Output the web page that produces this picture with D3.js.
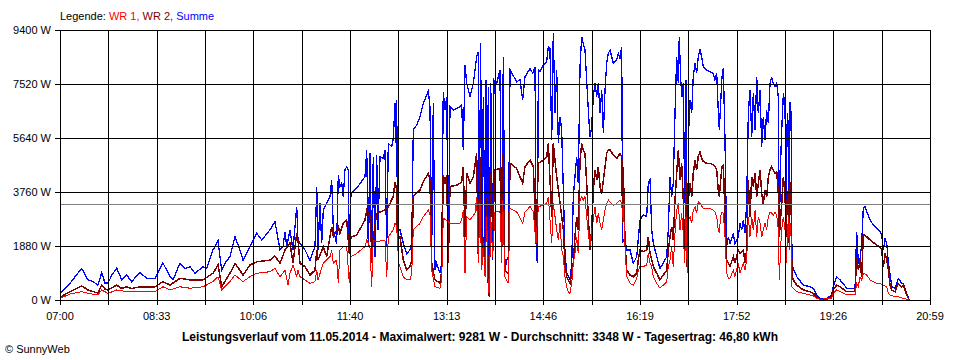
<!DOCTYPE html>
<html><head><meta charset="utf-8">
<script src="https://cdn.jsdelivr.net/npm/d3@7"></script>
<style>body{margin:0;background:#fff}svg{display:block}text{font-family:"Liberation Sans",Arial,sans-serif;font-size:11px;fill:#000}</style>
</head><body><svg id="c" width="960" height="360"></svg>
<script>
// time axis: minutes after 07:00 (07:00 .. 20:59)
const xTickLabels = ["07:00","08:33","10:06","11:40","13:13","14:46","16:19","17:52","19:26","20:59"];
const yTicks = [0,1880,3760,5640,7520,9400];
const yTickLabels = ["0 W","1880 W","3760 W","5640 W","7520 W","9400 W"];
const seriesNames = ["WR 1","WR 2","Summe"];
const avgW = 3348;
const titleText = "Leistungsverlauf vom 11.05.2014 - Maximalwert: 9281 W - Durchschnitt: 3348 W - Tagesertrag: 46,80 kWh";

const sumT = [1.0,9.6,20.9,27.0,31.8,36.6,40.2,43.4,46.3,50.1,54.7,59.5,64.3,69.1,73.3,77.2,83.6,91.6,99.3,106.1,109.0,115.7,120.5,125.4,130.2,137.9,141.5,147.5,152.4,155.9,159.1,163.9,168.8,173.6,176.5,183.2,189.7,194.5,202.5,207.3,212.2,215.1,217.0,218.6,221.8,224.7,228.3,229.5,231.4,236.3,241.1,245.9,247.6,248.8,250.7,252.4,253.9,260.4,262.0,263.6,266.8,268.4,270.0,271.7,273.2,274.8,276.5,278.0,279.0,280.6,286.1,294.1,295.8,297.3,298.9,300.6,302.1,303.8,305.4,306.7,308.6,311.8,313.4,315.1,316.6,319.9,321.4,323.1,324.0,324.7,325.3,326.6,327.9,331.1,334.4,337.5,339.2,340.7,344.0,347.2,350.4,353.6,355.2,356.8,358.5,360.0,361.6,363.3,366.5,368.1,369.6,371.3,372.9,374.5,376.1,379.3,382.6,385.7,387.4,388.9,390.6,392.2,395.4,398.6,401.8,403.4,404.3,405.7,406.7,408.2,409.9,410.8,412.1,413.0,414.0,415.4,417.3,418.5,421.1,424.3,426.0,427.5,429.1,430.8,432.3,434.0,440.4,443.6,446.2,448.4,453.3,455.9,458.1,459.0,460.3,461.3,462.9,466.1,469.4,470.9,472.5,474.2,475.7,477.4,479.0,480.6,482.2,483.8,485.4,487.0,488.7,491.8,493.5,495.0,496.6,498.3,499.8,501.5,503.1,504.6,506.3,507.9,509.5,511.1,512.7,514.3,515.9,517.6,519.1,520.8,522.4,524.0,525.6,527.2,528.8,530.4,533.6,536.9,538.4,540.0,541.7,542.6,543.2,544.9,546.5,549.7,552.9,556.2,559.3,562.5,565.8,567.3,569.0,570.6,572.2,575.5,578.6,581.8,585.1,586.6,588.3,589.9,591.4,593.1,594.7,596.3,597.2,598.6,599.8,601.1,602.4,603.7,605.0,606.3,607.6,609.2,610.7,612.4,614.0,615.5,617.2,618.8,620.4,623.6,626.8,630.0,631.6,633.3,634.8,635.8,637.1,638.4,639.7,641.3,642.9,644.5,646.1,649.3,650.9,654.1,655.8,657.4,659.0,660.6,662.2,663.8,665.4,667.1,668.6,670.3,671.9,673.4,675.1,676.7,678.2,679.9,681.5,683.1,684.7,686.3,687.9,689.5,691.2,692.7,693.7,695.0,696.0,697.6,699.2,700.2,701.4,702.4,703.4,704.0,705.0,705.9,707.2,710.5,716.8,723.3,726.5,729.7,732.9,739.4,744.2,745.7,749.0,752.2,758.7,766.7,768.3,769.9,771.5,773.1,774.7,776.3,778.0,781.2,784.4,787.6,790.8,792.4,794.1,795.7,797.3,798.9,800.4,802.1,805.3,808.4,811.7,813.2,816.5,819.1];
const sumW = [244,580,1100,700,640,520,950,590,590,870,1110,700,870,640,810,950,760,760,1290,810,700,1280,1100,1160,930,1160,1100,1740,2060,1040,1280,1510,2200,1740,1390,1860,2320,2090,2440,2730,1740,1860,2380,1860,2440,1740,3250,2090,1970,1740,1390,1860,3950,1740,3370,1970,3130,3600,4180,2440,1970,4350,3950,4060,3600,4530,4640,4530,1860,3710,3890,4290,5220,1860,5100,1280,4990,1510,5050,2440,4990,4930,5220,1860,5450,5340,5630,6850,5450,6960,3360,2440,2440,1970,1620,1740,1970,5920,6090,6380,6850,7140,7270,6730,1860,6850,1040,1280,930,1280,7250,6610,7080,1970,6730,6610,6670,6730,6790,5220,8180,7540,7080,7540,8470,8640,2440,8940,1280,7080,1510,7660,1280,7430,240,7540,1390,7660,7540,8010,1280,8470,1040,1390,1510,8010,7600,7660,6960,7770,8060,7890,8120,2090,1280,8010,7950,8180,8300,8820,8760,5570,9280,6500,8010,5450,6380,5920,3830,1620,930,700,1280,3600,4290,4990,4060,8120,9170,8940,8700,7660,6610,5680,6030,7080,7540,7080,7540,6500,7310,5800,7310,8240,8590,8700,8240,8360,8590,8410,8820,1970,2090,2090,1740,1740,1280,1510,2785,2960,2900,4060,4180,2440,1970,1510,1100,1280,1510,2440,4290,3600,4060,6500,8470,7540,9170,7660,7080,7540,3360,7660,1280,5920,6960,6500,7770,8240,7890,8470,8700,8470,8120,8010,7950,7890,7660,7890,6610,5920,6840,7770,8060,5570,1860,2200,1970,2320,1970,2200,2670,2440,2785,2320,3360,6500,7310,5690,7190,5920,7770,6500,7310,5340,6380,5570,6610,6150,7540,7770,7540,7430,7540,7080,2440,4870,5920,7190,6730,3250,6500,6030,2440,6900,6500,1280,1100,810,520,460,400,175,60,60,175,460,810,700,410,410,2380,1280,1390,1970,3190,3250,3070,2785,2610,2500,2380,2260,1740,2150,1970,1280,930,460,410,755,580,580,230,0];

const wr2T = [1.0,9.6,20.9,27.0,36.6,40.2,43.4,46.3,54.7,59.5,64.3,69.1,77.2,83.6,91.6,99.3,106.1,115.7,125.4,137.9,147.5,152.4,155.9,163.9,168.8,176.5,183.2,189.7,202.5,207.3,212.2,217.0,221.8,224.7,228.3,229.5,231.4,236.3,241.1,245.9,247.6,248.8,253.9,257.2,260.4,262.0,263.6,266.8,268.4,270.0,273.2,276.5,279.0,280.6,286.1,294.1,295.8,298.9,300.6,305.4,313.4,316.6,321.4,323.1,324.7,325.3,327.9,331.1,334.4,337.5,339.2,340.7,347.2,350.4,355.2,356.8,358.5,361.6,366.5,368.1,369.6,371.3,372.9,374.5,376.1,382.6,385.7,387.4,388.9,390.6,392.2,395.4,398.6,401.8,403.4,405.0,406.7,408.2,409.9,411.5,413.0,414.0,415.4,417.3,419.5,424.3,426.0,426.9,429.1,432.3,434.0,440.4,446.2,448.4,453.3,456.5,459.0,461.3,466.1,469.4,470.9,474.2,475.7,479.0,482.2,485.4,487.0,488.7,491.8,495.0,496.6,498.3,499.8,501.5,503.1,504.6,506.3,507.9,509.5,511.1,512.7,514.3,515.9,517.6,519.1,520.8,522.4,524.0,525.6,527.2,528.8,530.4,533.6,536.9,540.0,541.7,542.6,543.2,544.9,546.5,549.7,552.9,556.2,557.7,559.3,562.5,565.8,567.3,569.0,570.6,572.2,575.5,578.6,581.8,585.1,586.6,588.3,589.9,591.4,593.1,594.7,596.3,597.9,599.5,601.1,602.4,603.7,605.0,606.3,607.6,609.2,610.7,612.4,614.0,615.5,617.2,618.8,620.4,623.6,626.8,630.0,631.6,633.3,634.8,635.8,637.1,638.4,639.7,641.3,642.9,644.5,646.1,649.3,650.9,654.1,655.8,659.0,660.6,662.2,663.8,665.4,667.1,668.6,670.3,671.9,673.4,675.1,676.7,678.2,679.9,681.5,683.1,684.7,686.3,687.9,689.5,691.2,692.7,693.7,695.0,696.0,697.6,699.2,700.2,701.4,702.4,703.4,704.0,705.0,705.9,707.2,710.5,716.8,723.3,726.5,729.7,732.9,739.4,744.2,745.7,749.0,752.2,758.7,766.7,768.3,769.9,771.5,773.1,774.7,776.3,778.0,781.2,784.4,787.6,790.8,792.4,794.1,795.7,797.3,798.9,800.4,802.1,805.3,808.4,811.7,813.2,816.5,819.1];
const wr2W = [115,290,490,350,240,520,380,350,520,400,460,400,460,460,460,640,520,755,700,700,930,1220,460,930,1280,870,1220,1330,1390,1530,1280,1740,1980,1280,2320,2090,1280,1160,870,1040,1740,1390,1860,1510,2200,2550,2200,2440,2550,2320,2670,2785,1620,2200,2260,2785,3130,2900,1740,3020,3130,3250,3600,4120,3830,2200,2200,1390,1040,1160,1390,3600,3830,4120,4410,4180,1280,700,590,1040,4350,4060,4350,1280,3950,4000,4060,4120,4640,2200,4410,4060,4290,5100,1510,4990,1280,2200,1040,3600,580,115,4410,2440,4530,4580,1860,5100,1040,930,4760,4580,4060,4640,4870,4640,1970,4760,4870,4990,5450,2900,5450,4290,3360,2440,1280,810,580,1280,2200,2900,2440,4870,5450,5220,5100,4060,2900,1740,2440,3830,4530,4180,4640,3950,3710,4180,4640,5100,5220,5220,5050,4930,5100,5000,2670,4640,1970,1040,870,810,930,1390,1740,1680,1740,2200,1620,1390,1160,930,700,870,1040,1740,2200,2550,2090,3480,4410,5220,4180,4760,3480,1510,4180,930,3600,4060,3600,4410,4870,4530,4990,5160,4930,4820,4760,4760,4700,4640,4530,3830,3600,4180,4640,4700,2900,1390,1280,1160,1510,1280,1740,1620,1740,1280,1740,4180,2900,4290,3950,4410,3600,4060,4530,3710,3360,3830,3600,4290,4530,4640,4530,4410,4470,3710,2200,2900,3360,4290,3710,2200,3600,3830,1740,4120,3600,810,700,520,350,290,230,115,25,25,115,350,520,460,290,290,1510,1040,1390,810,2260,2260,2200,2090,2000,1910,1850,1740,1160,1620,1390,1040,520,350,290,580,460,520,175,0];

const wr1T = [1.0,9.6,20.9,27.0,36.6,40.2,46.3,54.7,64.3,77.2,91.6,99.3,106.1,115.7,125.4,137.9,147.5,152.4,155.9,163.9,168.8,176.5,183.2,189.7,202.5,207.3,212.2,217.0,219.9,221.8,224.7,228.3,229.5,231.4,236.3,241.1,245.9,247.6,248.8,253.9,260.4,262.0,263.6,266.8,268.4,270.0,273.2,276.5,279.0,280.6,286.1,294.1,295.8,298.9,300.6,302.1,305.4,313.4,315.1,316.6,321.4,323.1,324.7,326.6,331.1,334.4,337.5,339.2,340.7,347.2,350.4,355.2,356.8,358.5,361.6,366.5,368.1,369.6,372.9,376.1,385.7,387.4,388.9,390.6,392.2,395.4,400.2,401.8,403.4,405.0,406.7,408.2,409.9,411.5,413.0,414.0,415.4,417.3,419.5,424.3,426.0,426.9,429.1,432.3,434.0,440.4,446.2,448.4,453.3,456.5,459.0,461.3,466.1,469.4,470.9,474.2,475.7,477.4,479.0,480.6,482.2,483.8,485.4,487.0,488.7,490.2,491.8,493.5,495.0,496.6,498.3,499.8,501.5,503.1,504.6,506.3,507.9,509.5,511.1,512.7,514.3,515.9,517.6,519.1,520.8,522.4,524.0,525.6,527.2,528.8,530.4,533.6,536.9,540.0,541.7,542.6,543.2,544.9,546.5,549.7,552.9,556.2,557.7,559.3,562.5,565.8,567.3,569.0,570.6,572.2,575.5,578.6,581.8,585.1,586.6,588.3,589.9,591.4,593.1,594.7,596.3,597.9,599.5,601.1,602.4,603.7,605.0,606.3,607.6,609.2,610.7,612.4,614.0,615.5,617.2,620.4,623.6,626.8,630.0,631.6,633.3,634.8,635.8,637.1,638.4,639.7,641.3,642.9,644.5,646.1,649.3,650.9,654.1,655.8,659.0,660.6,662.2,663.8,665.4,667.1,668.6,670.3,671.9,673.4,675.1,676.7,678.2,679.9,681.5,683.1,684.7,686.3,687.9,689.5,691.2,692.7,693.7,695.0,696.0,697.6,699.2,700.2,701.4,702.4,703.4,704.0,705.0,705.9,707.2,710.5,716.8,723.3,726.5,729.7,732.9,744.2,745.7,749.0,752.2,758.7,766.7,768.3,769.9,771.5,773.1,774.7,778.0,781.2,784.4,787.6,790.8,794.1,797.3,798.9,800.4,805.3,808.4,813.2,819.1];
const wr1W = [70,210,290,230,175,350,230,350,290,290,290,460,350,460,410,460,640,810,350,640,870,640,810,930,985,1100,810,1040,520,930,1220,810,1040,810,700,580,640,1040,700,1280,1510,1740,1280,1390,580,1740,1860,1860,580,1510,1620,1860,2090,1860,460,2090,2030,2090,810,2200,2440,2670,2550,1280,810,700,700,930,2440,2670,2900,3130,3000,1040,460,410,700,2840,2780,2670,2670,2785,3130,930,2900,2785,3020,3600,1280,3360,1040,1970,810,2900,350,230,2900,1510,3070,3070,1280,3480,810,580,3190,3070,2670,3070,3250,3070,1970,3250,3300,3370,3600,1970,3370,2900,2440,2090,2670,1740,1510,810,460,290,230,580,1280,1620,2200,1620,3480,3600,3480,3600,2900,2320,1860,2440,2785,3250,2670,3020,2670,2440,2785,3130,3360,3480,3420,3300,3360,3480,3360,2900,3360,1860,810,580,520,750,1040,1160,1160,1220,1620,1280,1160,810,580,410,520,640,1160,1390,1860,1160,2320,3130,3360,2440,3020,2320,1280,2900,930,2780,2900,2670,3130,3250,3020,3420,3360,3190,3190,3190,3130,3070,2900,2440,2320,2900,3070,3020,2200,930,760,760,1040,810,1280,930,1280,1040,1390,2900,2200,2900,2440,3130,2200,2900,2670,2200,2440,2670,2440,2900,3070,3020,2960,3070,2960,2440,700,1860,2440,2900,2440,1280,2090,2900,1740,2670,2200,460,410,290,230,175,140,60,25,60,230,350,290,175,175,580,470,810,700,930,870,700,640,580,580,520,460,230,175,115,115,60,0];

const svg = d3.select("#c");
const x = d3.scaleLinear().domain([0, 839]).range([60, 930]);
const y = d3.scaleLinear().domain([0, 9400]).range([300, 30]);

const zip = (t, w) => t.map((v, i) => [v, w[i]]);
const line = d3.line().x(d => x(d[0])).y(d => y(d[1]));

const series = [
  {name: seriesNames[2], data: zip(sumT, sumW), color: "#0000ff", w: 1.3},
  {name: seriesNames[1], data: zip(wr2T, wr2W), color: "#800000", w: 1.5},
  {name: seriesNames[0], data: zip(wr1T, wr1W), color: "#ff0000", w: 1}
];
svg.append("g").attr("shape-rendering", "crispEdges").selectAll("path").data(series).join("path")
  .attr("d", d => line(d.data)).attr("fill", "none")
  .attr("stroke", d => d.color).attr("stroke-width", d => d.w)
  .attr("stroke-linejoin", "miter");

// grid
const grid = svg.append("g").attr("shape-rendering", "crispEdges").attr("stroke", "#000").attr("stroke-width", 1);
const nV = 18;
const vTicks = d3.range(nV + 1).map(i => i * 839 / nV);
grid.selectAll("line.v").data(vTicks).join("line").attr("class", "v")
  .attr("x1", d => Math.round(x(d)) + 0.5).attr("x2", d => Math.round(x(d)) + 0.5)
  .attr("y1", 30).attr("y2", 305);
grid.selectAll("line.h").data(yTicks).join("line").attr("class", "h")
  .attr("x1", 55).attr("x2", 931)
  .attr("y1", d => Math.round(y(d)) + 0.5).attr("y2", d => Math.round(y(d)) + 0.5);

// average line
svg.append("line").attr("shape-rendering", "crispEdges")
  .attr("x1", 61).attr("x2", 930)
  .attr("y1", Math.round(y(avgW)) + 0.5).attr("y2", Math.round(y(avgW)) + 0.5)
  .attr("stroke", "#808080").attr("stroke-width", 1);

// y labels
svg.append("g").selectAll("text").data(yTicks).join("text")
  .attr("x", 51).attr("y", d => y(d) + 4).attr("text-anchor", "end")
  .text((d, i) => yTickLabels[i]);

// x labels
svg.append("g").selectAll("text").data(xTickLabels).join("text")
  .attr("x", (d, i) => x(vTicks[i * 2])).attr("y", 320).attr("text-anchor", "middle")
  .text(d => d);

// legend
const leg = svg.append("text").attr("x", 60).attr("y", 20);
leg.append("tspan").text("Legende: ");
leg.append("tspan").style("fill", "#ff0000").text(seriesNames[0] + ", ");
leg.append("tspan").style("fill", "#800000").text(seriesNames[1] + ", ");
leg.append("tspan").style("fill", "#0000ff").text(seriesNames[2]);

// title
svg.append("text").attr("x", 480).attr("y", 341).attr("text-anchor", "middle")
  .style("font-weight", "bold").style("font-size", "12px").text(titleText);

svg.append("text").attr("x", 5).attr("y", 353).text("\u00a9 SunnyWeb");
</script>
</body></html>
